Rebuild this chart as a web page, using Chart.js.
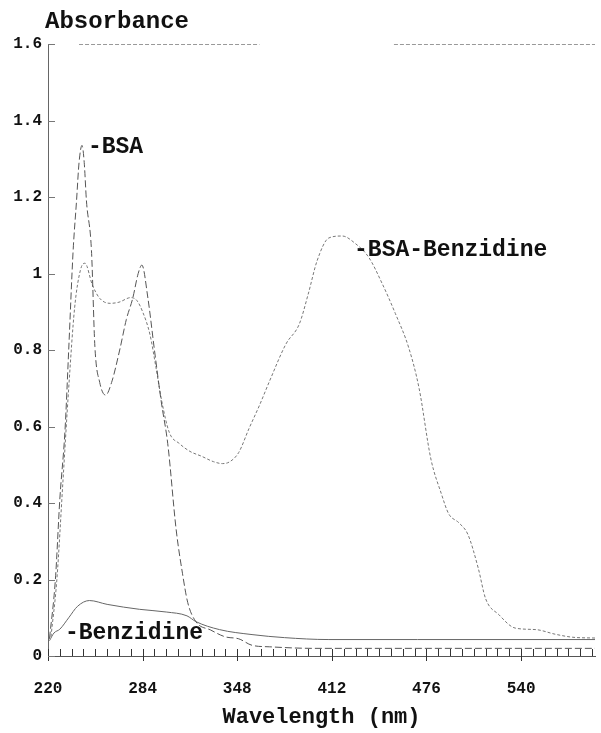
<!DOCTYPE html>
<html lang="en">
<head>
    <meta charset="UTF-8">
    <title>Absorbance spectra</title>
    <script src="https://cdn.jsdelivr.net/npm/chart.js"></script>
    <style>
        html, body { margin: 0; padding: 0; background: #fff; }
        #chartContainer { width: 601px; height: 733px; }
    </style>
</head>
<body>
    <div id="chartContainer">
        <canvas id="spectrumChart" width="601" height="733"></canvas>
    </div>

    <script>
        // wavelength (nm) / absorbance
        const bsaNm  = [221, 225, 228, 231.5, 234, 237, 239.3, 241, 243, 244.5, 246, 249.4, 251.7, 255, 259, 263, 268.5, 273, 277.3, 281, 283.5, 287.6, 292, 296.6, 301, 306.7, 311, 314.5, 320, 330, 340, 349, 358, 370, 400, 590];
        const bsaAbs = [0.045, 0.2, 0.41, 0.59, 0.8, 1.06, 1.19, 1.29, 1.335, 1.29, 1.19, 1.06, 0.81, 0.715, 0.682, 0.715, 0.80, 0.88, 0.935, 1.0, 1.022, 0.935, 0.80, 0.665, 0.555, 0.33, 0.215, 0.14, 0.09, 0.068, 0.05, 0.045, 0.028, 0.024, 0.02, 0.02];

        const bsaBenzNm  = [222, 226, 230, 234, 238, 242, 245, 250, 255, 262, 268, 276, 280, 284, 289, 293, 297, 302, 309, 316, 324, 332, 338, 343, 349, 356, 363, 370, 381, 390, 396, 402, 410, 419, 428, 437, 446, 455, 464, 471, 479, 486, 491, 498, 504, 511, 516, 525, 536, 550, 563, 575, 590];
        const bsaBenzAbs = [0.05, 0.2, 0.45, 0.7, 0.91, 1.01, 1.027, 0.97, 0.935, 0.922, 0.925, 0.937, 0.93, 0.9, 0.84, 0.755, 0.665, 0.585, 0.555, 0.535, 0.522, 0.508, 0.503, 0.508, 0.532, 0.595, 0.655, 0.72, 0.816, 0.868, 0.946, 1.033, 1.093, 1.098, 1.078, 1.042, 0.974, 0.895, 0.806, 0.70, 0.515, 0.425, 0.372, 0.348, 0.318, 0.23, 0.15, 0.108, 0.073, 0.069, 0.057, 0.049, 0.047];

        const benzNm  = [221, 224, 228, 234, 240, 248, 260, 282, 300, 314, 320, 336, 358, 380, 410, 470, 590];
        const benzAbs = [0.04, 0.06, 0.07, 0.1, 0.13, 0.145, 0.135, 0.122, 0.115, 0.105, 0.09, 0.069, 0.056, 0.048, 0.043, 0.043, 0.043];

        const xMajorTicks = [220, 284, 348, 412, 476, 540];
        const yTickLabels = ['0', '0.2', '0.4', '0.6', '0.8', '1', '1.2', '1.4', '1.6'];

        // curve labels: text, anchored at wavelength / absorbance
        const curveLabels = ['-BSA', '-BSA-Benzidine', '-Benzidine'];
        const curveLabelNm = [247, 427, 231.5];
        const curveLabelAbs = [1.33, 1.061, 0.06];

        const FONT = '"Liberation Mono", "DejaVu Sans Mono", monospace';

        // small marks every 8 nm along the baseline
        const xMinorTicks = [];
        for (let v = 220; v <= 590; v += 8) xMinorTicks.push(v);

        function toPoints(xs, ys) {
            return xs.map((v, i) => ({ x: v, y: ys[i] }));
        }

        // inward tick marks, top border, curve labels and the y title
        const decorations = {
            id: 'decorations',
            afterDraw(chart) {
                const { ctx, chartArea: a, scales: { x, y } } = chart;
                ctx.save();
                ctx.strokeStyle = '#333';
                ctx.lineWidth = 1;
                x.ticks.forEach(t => {
                    const px = Math.round(x.getPixelForValue(t.value)) + 0.5;
                    const major = xMajorTicks.includes(t.value);
                    ctx.beginPath();
                    ctx.moveTo(px, a.bottom - 7);
                    ctx.lineTo(px, a.bottom + (major ? 5 : 0));
                    ctx.stroke();
                });
                ctx.strokeStyle = '#777';
                y.ticks.forEach(t => {
                    const py = Math.round(y.getPixelForValue(t.value)) + 0.5;
                    ctx.beginPath();
                    ctx.moveTo(a.left, py);
                    ctx.lineTo(a.left + 7, py);
                    ctx.stroke();
                });

                // top frame line (broken, as in the scan)
                ctx.strokeStyle = '#999';
                ctx.setLineDash([4, 2]);
                const top = Math.round(y.getPixelForValue(1.6)) + 0.5;
                [[241, 363], [454, 590]].forEach(([s, e]) => {
                    ctx.beginPath();
                    ctx.moveTo(x.getPixelForValue(s), top);
                    ctx.lineTo(x.getPixelForValue(e), top);
                    ctx.stroke();
                });
                ctx.setLineDash([]);

                ctx.fillStyle = '#111';
                ctx.textBaseline = 'middle';
                ctx.textAlign = 'left';
                ctx.font = 'bold 23px ' + FONT;
                curveLabels.forEach((txt, i) => {
                    ctx.fillText(txt, x.getPixelForValue(curveLabelNm[i]), y.getPixelForValue(curveLabelAbs[i]));
                });

                ctx.font = 'bold 24px ' + FONT;
                ctx.fillText('Absorbance', a.left - 3, 22);
                ctx.restore();
            }
        };

        const ctx = document.getElementById('spectrumChart').getContext('2d');
        new Chart(ctx, {
            type: 'line',
            data: {
                datasets: [
                    {
                        label: 'BSA',
                        data: toPoints(bsaNm, bsaAbs),
                        borderColor: '#555',
                        borderWidth: 1,
                        borderDash: [7, 3],
                        pointRadius: 0,
                        cubicInterpolationMode: 'monotone',
                        fill: false
                    },
                    {
                        label: 'BSA-Benzidine',
                        data: toPoints(bsaBenzNm, bsaBenzAbs),
                        borderColor: '#777',
                        borderWidth: 1,
                        borderDash: [3, 2],
                        pointRadius: 0,
                        cubicInterpolationMode: 'monotone',
                        fill: false
                    },
                    {
                        label: 'Benzidine',
                        data: toPoints(benzNm, benzAbs),
                        borderColor: '#666',
                        borderWidth: 1,
                        pointRadius: 0,
                        cubicInterpolationMode: 'monotone',
                        fill: false
                    }
                ]
            },
            options: {
                responsive: false,
                animation: false,
                layout: { padding: { left: 0, right: 6, top: 44, bottom: 2 } },
                plugins: {
                    legend: { display: false },
                    tooltip: { enabled: false }
                },
                scales: {
                    x: {
                        type: 'linear',
                        min: 220,
                        max: 590,
                        afterBuildTicks: s => { s.ticks = xMinorTicks.map(v => ({ value: v })); },
                        afterFit: s => { s.height = 75; s.paddingLeft = 0; s.paddingRight = 0; },
                        grid: { display: false, drawTicks: false },
                        border: { display: true, color: '#555', dash: [4, 2] },
                        ticks: {
                            autoSkip: false,
                            maxRotation: 0,
                            padding: 23,
                            color: '#111',
                            font: { family: FONT, size: 16, weight: 'bold' },
                            callback: v => xMajorTicks.includes(v) ? String(v) : ''
                        },
                        title: {
                            display: true,
                            text: 'Wavelength (nm)',
                            color: '#111',
                            padding: 0,
                            font: { family: FONT, size: 22, weight: 'bold' }
                        }
                    },
                    y: {
                        min: 0,
                        max: 1.6,
                        afterFit: s => { s.width = 48; },
                        grid: { display: false, drawTicks: false },
                        border: { display: true, color: '#666', dash: [8, 2, 2, 2] },
                        ticks: {
                            stepSize: 0.2,
                            padding: 6,
                            color: '#111',
                            font: { family: FONT, size: 16, weight: 'bold' },
                            callback: (v, i) => yTickLabels[i]
                        }
                    }
                }
            },
            plugins: [decorations]
        });
    </script>
</body>
</html>
